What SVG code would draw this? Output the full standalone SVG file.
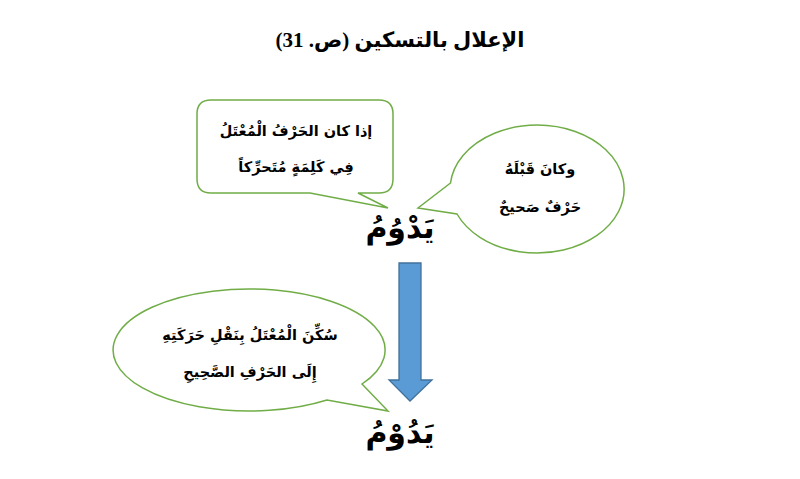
<svg xmlns="http://www.w3.org/2000/svg" width="800" height="479" viewBox="0 0 800 479">
<style>
.bubble{fill:#ffffff;stroke:#70AD47;stroke-width:1.5;stroke-linejoin:miter}
.t{font-family:"DejaVu Sans",sans-serif;font-weight:bold;fill:#000000;direction:rtl;text-anchor:middle}
.b{font-size:14.5px}
.w{font-size:30px}
.ttl{font-family:"Liberation Serif","DejaVu Sans",serif;font-size:21px}
</style>
<rect width="800" height="479" fill="#ffffff"/>
<g id="title">
<text class="t ttl" x="400" y="47">الإعلال بالتسكين (ص. 31)</text>
</g>
<g id="connectors">
<path id="arrow" d="M399,263 H421 V380 H432 L410,401 L389,380 H399 Z" fill="#5B9BD5" stroke="#41719C" stroke-width="1.3"/>
</g>
<g id="bubble-top-left">
<path class="bubble" d="M211,100 H379 Q393,100 393,114 V179 Q393,193 379,193 H358 L388,208 L310,193 H211 Q197,193 197,179 V114 Q197,100 211,100 Z"/>
<text class="t b" x="296" y="136">إذا كان الحَرْفُ الْمُعْتَلُ</text>
<text class="t b" x="296" y="172">فِي كَلِمَةٍ مُتَحرِّكاً</text>
</g>
<g id="bubble-right">
<path class="bubble" d="M450.5,183 L418,208 L457,214 A87,64 0 1 0 450.5,183 Z"/>
<text class="t b" x="540" y="174">وكانَ قَبْلَهُ</text>
<text class="t b" x="540" y="212">حَرْفٌ صَحيحٌ</text>
</g>
<g id="word-top">
<text class="t w" x="400" y="238">يَدْوُمُ</text>
</g>
<g id="bubble-bottom">
<path class="bubble" d="M362,384 L388,411 L327,400 A136,61 0 1 1 362,384 Z"/>
<text class="t b" x="250" y="340">سُكِّنَ الْمُعْتَلُ بِنَقْلِ حَرَكَتِهِ</text>
<text class="t b" x="250" y="377">إِلَى الحَرْفِ الصَّحِيحِ</text>
</g>
<g id="word-bottom">
<text class="t w" x="400" y="443">يَدُوْمُ</text>
</g>
</svg>
